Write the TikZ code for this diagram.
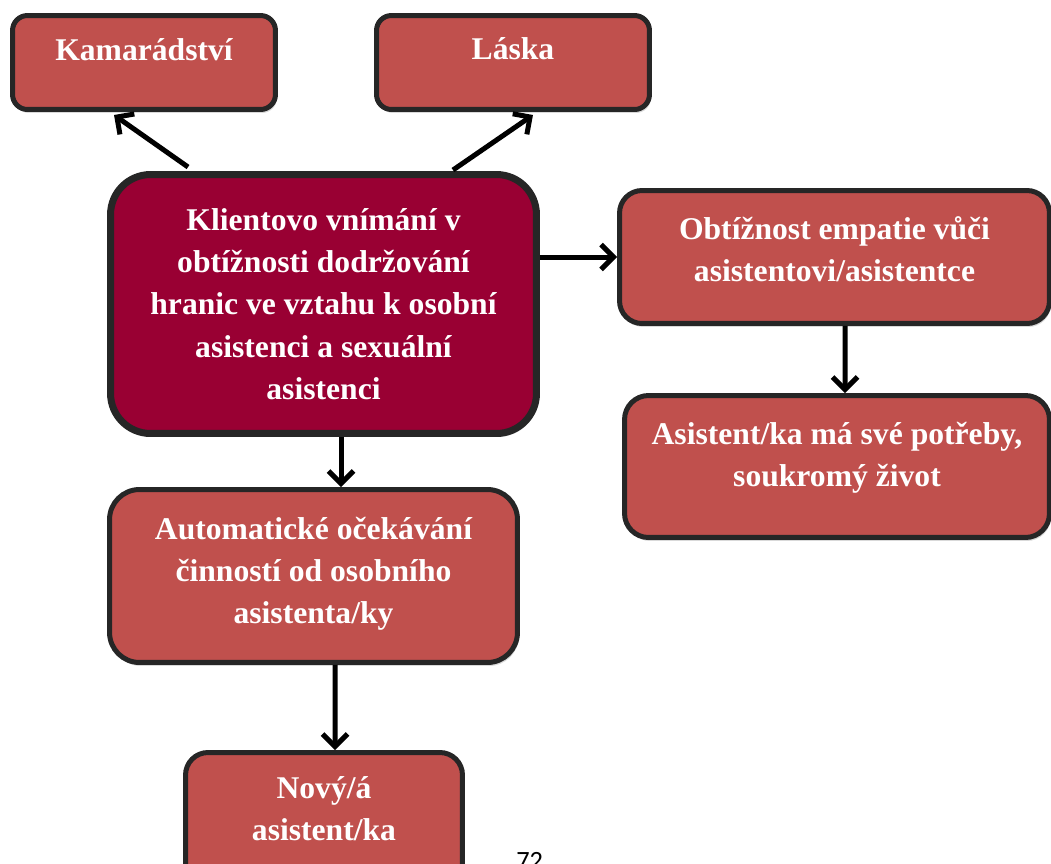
\documentclass[tikz,border=0pt]{standalone}
\usepackage{fontspec}
\setmainfont{Liberation Serif}
\newfontfamily\pagefont{Carlito}
\usetikzlibrary{arrows.meta,calc,shadows}

\definecolor{boxred}{RGB}{192,80,77}
\definecolor{mainred}{RGB}{153,0,51}
\definecolor{rim}{RGB}{38,38,38}

% lifted, centred block of lines inside a box
\newcommand{\liftext}[3]{\raisebox{#1}[\height][\depth]{\parbox[t]{#2}{\centering #3}}}

\tikzset{
  box/.style={draw=rim, line width=0.1cm, fill=boxred, rounded corners=0.3cm,
    text=white, inner sep=0pt, font=\fontsize{18}{24}\selectfont\bfseries,
    drop shadow={opacity=0.3, shadow xshift=0.03cm, shadow yshift=-0.07cm}},
  mainbox/.style={box, fill=mainred, line width=0.14cm, rounded corners=0.8cm},
  arr/.style={-{Straight Barb[length=0.25cm,width=0.5cm]}, line width=0.1cm},
}

\begin{document}
\begin{tikzpicture}[x=0.02cm, y=-0.02cm]
  \useasboundingbox (0,0) rectangle (1051,863);

  % boxes
  \node[mainbox, minimum width=8.52cm, minimum height=5.18cm] (main) at (323.5,304)
    {\liftext{0cm}{8.4cm}{Klientovo vnímání v\\ obtížnosti dodržování\\ hranic ve vztahu k osobní\\ asistenci a sexuální\\ asistenci}};
  \node[box, minimum width=5.26cm, minimum height=1.88cm] (kam) at (144,62.5)
    {\liftext{0.25cm}{5cm}{Kamarádství}};
  \node[box, minimum width=5.46cm, minimum height=1.88cm] (lask) at (513,62.5)
    {\liftext{0.27cm}{5cm}{Láska}};
  \node[box, minimum width=8.6cm, minimum height=2.66cm, rounded corners=0.45cm] (obt) at (834.5,257)
    {\liftext{0.16cm}{8.4cm}{Obtížnost empatie vůči\\ asistentovi/asistentce}};
  \node[box, minimum width=8.5cm, minimum height=2.84cm, rounded corners=0.48cm] (asist) at (837,466.5)
    {\liftext{0.18cm}{8.4cm}{Asistent/ka má své potřeby,\\ soukromý život}};
  \node[box, minimum width=8.16cm, minimum height=3.46cm, rounded corners=0.6cm] (auto) at (313.5,576)
    {\liftext{0.05cm}{8cm}{Automatické očekávání\\ činností od osobního\\ asistenta/ky}};
  \node[box, minimum width=5.54cm, minimum height=2.7cm, rounded corners=0.45cm] (novy) at (324,820)
    {\liftext{0.22cm}{5.4cm}{Nový/á\\ asistent/ka}};

  % page number
  \node[font=\pagefont\fontsize{15}{18}\selectfont, anchor=base west, inner sep=0pt] (pg) at (516,869) {72};

  % arrows
  \draw[arr] ($(main.north west)+(81,-4)$) -- ($(kam.south west)+(104,3)$);
  \draw[arr] ($(main.north east)+(-87,-1)$) -- ($(lask.south east)+(-119,3)$);
  \draw[arr] (main.east |- obt.west) -- (obt.west);
  \draw[arr] ($(obt.south)+(10.5,0)$) -- ($(asist.north)+(8,0)$);
  \draw[arr] ($(main.south)+(17.5,0)$) -- ($(auto.north)+(27.5,0)$);
  \draw[arr] ($(auto.south)+(21.5,0)$) -- ($(novy.north)+(11,0)$);
\end{tikzpicture}
\end{document}
